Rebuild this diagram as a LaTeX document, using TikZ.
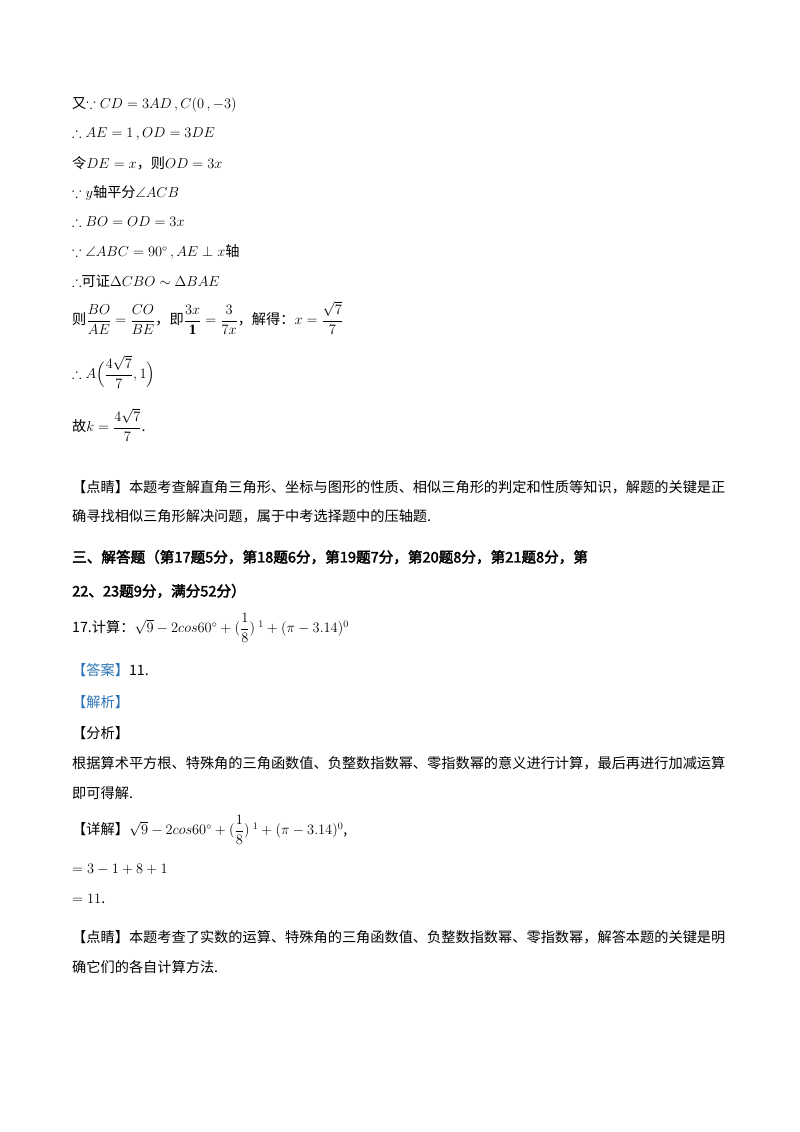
\documentclass[tikz,border=0pt]{standalone}
\usepackage{amsmath,amssymb}
\usepackage{fontspec}
\setmainfont{Liberation Serif}
\newfontfamily\cjk{Noto Sans CJK SC}[AutoFakeBold=2.5]
\definecolor{ansblue}{HTML}{2E75B6}
\begin{document}
\begin{tikzpicture}[x=1pt,y=-1pt,
  t/.style={anchor=west,inner sep=0pt,font=\fontsize{14.2}{17}\selectfont\cjk}]
\useasboundingbox[fill=white] (0,0) rectangle (800,1132);
\node[t] (l1) at (72,105) {又$\because CD=3AD\,,C(0\,,-3)$};
\node[t] (l2) at (72,134) {$\therefore AE=1\,,OD=3DE$};
\node[t] (l3) at (72,163) {令$DE=x$，则$OD=3x$};
\node[t] (l4) at (72,193) {$\because y$轴平分$\angle ACB$};
\node[t] (l5) at (72,222) {$\therefore BO=OD=3x$};
\node[t] (l6) at (72,252) {$\because \angle ABC=90^\circ\,,AE\perp x$轴};
\node[t] (l7) at (72,281) {$\therefore$可证$\Delta CBO\sim\Delta BAE$};
\node[t] (l8) at (72,318) {则$\dfrac{BO}{AE}=\dfrac{CO}{BE}$，即$\dfrac{3x}{\mathbf{1}}=\dfrac{3}{7x}$，解得：$x=\dfrac{\sqrt{7}}{7}$};
\node[t] (l9) at (72,372) {$\therefore A\Bigl(\dfrac{4\sqrt{7}}{7},1\Bigr)$};
\node[t] (l10) at (72,425) {故$k=\dfrac{4\sqrt{7}}{7}$.};
\node[t] (l11) at (72,487) {【点睛】本题考查解直角三角形、坐标与图形的性质、相似三角形的判定和性质等知识，解题的关键是正};
\node[t] (l12) at (72,516) {确寻找相似三角形解决问题，属于中考选择题中的压轴题.};
\node[t,font=\fontsize{14.6}{17}\selectfont\cjk\bfseries] (h) at (72,557) {三、解答题（第17题5分，第18题6分，第19题7分，第20题8分，第21题8分，第};
\node[t,font=\fontsize{14.6}{17}\selectfont\cjk\bfseries] (h2) at (72,591) {22、23题9分，满分52分）};
\node[t] (q) at (72,628) {17.计算：$\sqrt{9}-2cos60^\circ+(\dfrac{1}{8})^{\ 1}+(\pi-3.14)^0$};
\node[t] (a) at (72,670) {\textcolor{ansblue}{【答案】}11.};
\node[t] (j) at (72,702) {\textcolor{ansblue}{【解析】}};
\node[t] (f) at (72,733) {【分析】};
\node[t] (f1) at (72,763) {根据算术平方根、特殊角的三角函数值、负整数指数幂、零指数幂的意义进行计算，最后再进行加减运算};
\node[t] (f2) at (72,793) {即可得解.};
\node[t] (x) at (72,830) {【详解】$\sqrt{9}-2cos60^\circ+(\dfrac{1}{8})^{\ 1}+(\pi-3.14)^0$,};
\node[t] (x1) at (72,869) {$=3-1+8+1$};
\node[t] (x2) at (72,899) {$=11$.};
\node[t] (d1) at (72,937) {【点睛】本题考查了实数的运算、特殊角的三角函数值、负整数指数幂、零指数幂，解答本题的关键是明};
\node[t] (d2) at (72,967) {确它们的各自计算方法.};
\end{tikzpicture}
\end{document}
